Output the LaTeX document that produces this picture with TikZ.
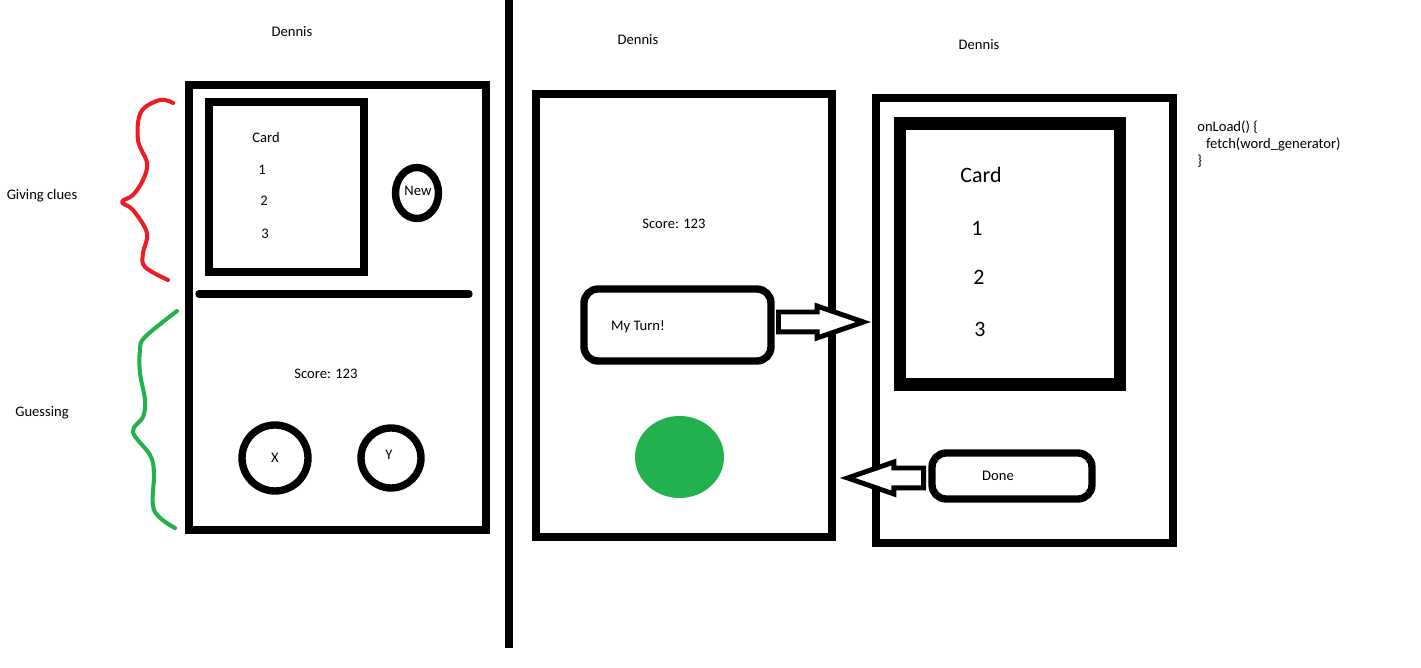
\documentclass[tikz,border=0pt]{standalone}
\usepackage{fontspec}
\setmainfont{Carlito}
\usepackage{xcolor}
\usetikzlibrary{positioning,shapes.geometric,shapes.arrows}
\definecolor{paintred}{HTML}{ED1C24}
\definecolor{paintgreen}{HTML}{22B14C}
\tikzset{
  phoneframe/.style={
    draw=black, line width=4.2pt, rectangle,
    minimum width=5.94cm, minimum height=8.9cm, inner sep=0pt
  },
  cardframe/.style={
    draw=black, line width=4.2pt, rectangle, inner sep=0pt
  },
  roundbutton/.style={
    draw=black, line width=4.2pt, ellipse, inner sep=0pt
  },
  pillbutton/.style={
    draw=black, line width=4.2pt, rounded corners=8pt, inner sep=0pt
  },
  paintlabel/.style={
    font=\fontsize{8.3}{9.8}\selectfont, inner sep=0pt
  },
  bigcardtext/.style={
    font=\fontsize{12.5}{14}\selectfont, inner sep=0pt
  },
  clickarrow/.style={
    single arrow, draw=black, fill=white, line width=2.8pt,
    inner sep=0.15cm, single arrow head extend=0.12cm,
    single arrow tip angle=38, minimum height=1.7cm
  },
  bracestroke/.style={line width=2.3pt, line cap=round, line join=round}
}

\begin{document}
\begin{tikzpicture}[x=0.02cm,y=-0.02cm]
  \useasboundingbox[fill=white] (0,0) rectangle (1421,668);

  % split between the two screens
  \coordinate (splittop) at (509,0);
  \coordinate (splitbot) at (509,648);
  \draw[line width=4pt] (splittop) -- (splitbot);

  % screen one: clue giver and guesser
  \node[paintlabel] (dennisA) at (292,32) {Dennis};
  \node[phoneframe] (phoneA) at (337.5,307.5) {};
  \node[cardframe,minimum width=3.1cm,minimum height=3.4cm] (cardA) at (286.5,187) {};
  \node[paintlabel] (cardAtitle) at (266,137) {Card};
  \node[paintlabel] (cardAone) at (262,170) {1};
  \node[paintlabel] (cardAtwo) at (264,201) {2};
  \node[paintlabel] (cardAthree) at (265,234) {3};
  \node[roundbutton,minimum width=0.86cm,minimum height=1.02cm] (newbtn) at (417,193) {};
  \node[paintlabel] (newtext) at (418,191) {New};
  \coordinate (ruleL) at (199,294);
  \coordinate (ruleR) at (469,294);
  \draw[line width=4.2pt,line cap=round] (ruleL) -- (ruleR);
  \node[paintlabel] (scoreA) at (326,374) {Score: 123};
  \node[roundbutton,minimum size=1.32cm] (xbtn) at (275,458) {};
  \node[paintlabel] (xtext) at (275,458) {X};
  \node[roundbutton,minimum size=1.2cm] (ybtn) at (391,458) {};
  \node[paintlabel] (ytext) at (389,455) {Y};

  % braces for the two roles
  \draw[bracestroke,paintred] plot[smooth,tension=0.6] coordinates {
    (173,103) (160,100) (141,112) (138,140) (147,163) (143,180)
    (133,195) (122,202) (133,210) (147,233) (143,253) (145,267) (168,280)};
  \draw[bracestroke,paintgreen] plot[smooth,tension=0.6] coordinates {
    (177,311) (145,337) (140,350) (140,373) (145,400) (143,417)
    (133,432) (150,455) (154,473) (154,510) (175,528)};
  \node[paintlabel] (givingclues) at (42,196) {Giving clues};
  \node[paintlabel] (guessing) at (42,413) {Guessing};

  % screen two: waiting for a turn
  \node[paintlabel] (dennisB) at (638,40) {Dennis};
  \node[phoneframe,minimum width=5.92cm,minimum height=8.86cm] (phoneB) at (684,315.5) {};
  \node[paintlabel] (scoreB) at (674,224) {Score: 123};
  \node[pillbutton,minimum width=3.74cm,minimum height=1.44cm] (myturn) at (677.5,325) {};
  \node[paintlabel] (myturntext) at (638,327) {My Turn!};
  \node[ellipse,fill=paintgreen,minimum width=1.78cm,minimum height=1.64cm,inner sep=0pt] (readydot) at (679.5,457) {};

  % screen three: the drawn card
  \node[paintlabel] (dennisC) at (979,45) {Dennis};
  \node[phoneframe] (phoneC) at (1024.5,320.5) {};
  \node[cardframe,line width=7.2pt,minimum width=4.4cm,minimum height=5.22cm] (cardC) at (1010,254) {};
  \node[bigcardtext] (cardCtitle) at (981,175) {Card};
  \node[bigcardtext] (cardCone) at (977,228) {1};
  \node[bigcardtext] (cardCtwo) at (979,277) {2};
  \node[bigcardtext] (cardCthree) at (980,329) {3};
  \node[pillbutton,minimum width=3.2cm,minimum height=0.92cm] (donebtn) at (1012,476) {};
  \node[paintlabel] (donetext) at (998,476) {Done};
  \node[paintlabel,align=left,anchor=north west] (onload) at (1197,120) {%
    onLoad() \{\\
    \hspace*{5pt}fetch(word\_generator)\\
    \}};

  % moves between the screens
  \node[clickarrow,anchor=tip] (toCard) at (871,322) {};
  \node[clickarrow,shape border rotate=180,minimum height=1.52cm,anchor=tip] (toWait) at (840,478) {};
\end{tikzpicture}
\end{document}
